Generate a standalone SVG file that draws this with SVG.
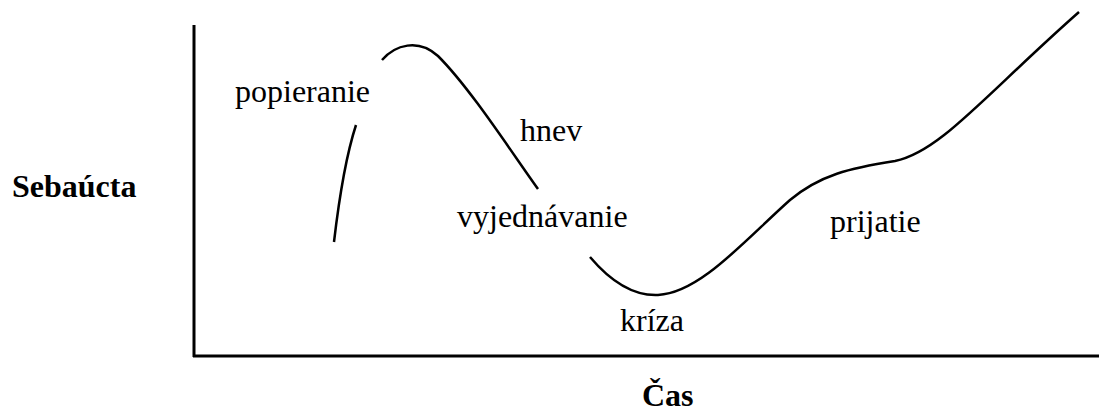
<svg xmlns="http://www.w3.org/2000/svg" width="1099" height="414" viewBox="0 0 1099 414">
<style>
.t{font-size:32px;fill:#000}
.b{font-weight:bold}
.c{fill:none;stroke:#000;stroke-width:2.5;stroke-linecap:butt}
.ax{fill:none;stroke:#000;stroke-width:3}
</style>
<rect width="1099" height="414" fill="#fff"/>
<g id="axes">
<line class="ax" x1="194" y1="25" x2="194" y2="357"/>
<line class="ax" x1="193" y1="356" x2="1099" y2="356"/>
</g>
<g id="connectors">
<path class="c" d="M334,242 Q343,165 356,125"/>
<path class="c" d="M382,60 C395,45 418,38 438,56 C470,88 510,150 538,189"/>
<path class="c" d="M590,257 C612,283 635,296 658,295 C700,293 745,240 790,200 C820,175 850,168 895,161 C940,152 985,95 1079,12"/>
</g>
<g id="labels" font-family="'Liberation Serif', Tinos, 'Times New Roman', serif">
<text class="t" x="235" y="102">popieranie</text>
<text class="t" x="520" y="141">hnev</text>
<text class="t" x="457" y="227">vyjednávanie</text>
<text class="t" x="830" y="232">prijatie</text>
<text class="t" x="620" y="331">kríza</text>
<text class="t b" x="12" y="197">Sebaúcta</text>
<text class="t b" x="642" y="406">Čas</text>
</g>
</svg>
